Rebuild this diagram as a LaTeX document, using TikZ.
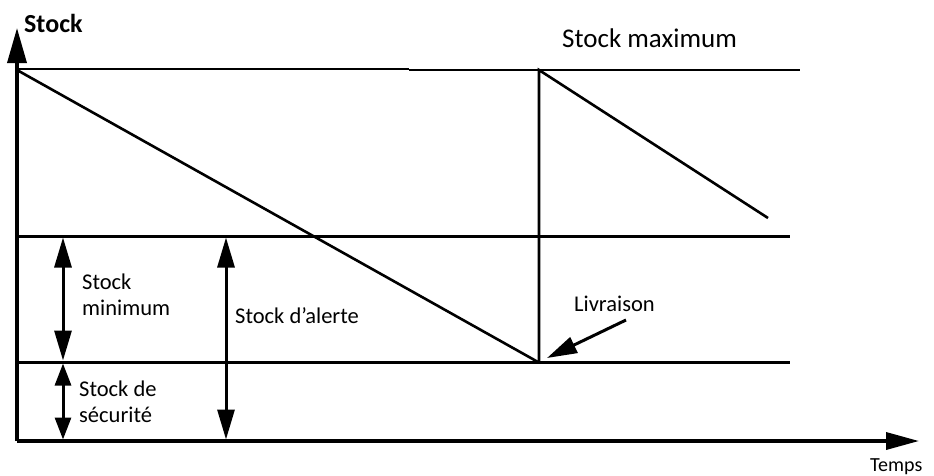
\documentclass[tikz,border=0pt]{standalone}
\usepackage{fontspec}
\setmainfont{Carlito}
\usetikzlibrary{arrows.meta}
\begin{document}
\begin{tikzpicture}[x=1pt,y=-1pt,
  axis/.style={line width=3.5pt},
  level/.style={line width=3pt},
  thinlevel/.style={line width=2pt},
  saw/.style={line width=2.6pt},
  dbl/.style={line width=3pt,{Triangle[length=30pt,width=17pt]}-{Triangle[length=30pt,width=17pt]}},
  dblshort/.style={line width=3pt,{Triangle[length=22pt,width=16pt]}-{Triangle[length=22pt,width=16pt]}},
  lbl/.style={font=\fontsize{22.5}{26}\selectfont, align=left, inner sep=0pt, anchor=base west}]
\useasboundingbox (0,0) rectangle (934,475);
% coordinates
\coordinate (O) at (17,441);
\coordinate (Ytip) at (17,28);
\coordinate (Xtip) at (919,441);
\coordinate (M1) at (17,69);
\coordinate (M2) at (409,69);
\coordinate (M3) at (409,70);
\coordinate (M4) at (800,70);
\coordinate (SA) at (17,70);
\coordinate (SB) at (538,362);
\coordinate (SC) at (539,70);
\coordinate (SD) at (768,218);
\coordinate (L1a) at (17,236);
\coordinate (L1b) at (790,236);
\coordinate (L2a) at (17,362);
\coordinate (L2b) at (790,362);
% axes
\draw[axis,-{Triangle[length=35pt,width=19pt]}] (O) -- (Ytip);
\draw[axis,-{Triangle[length=33pt,width=17pt]}] (O) -- (Xtip);
% levels
\draw[thinlevel] (M1) -- (M2);
\draw[thinlevel] (M3) -- (M4);
\draw[level] (L1a) -- (L1b);
\draw[level] (L2a) -- (L2b);
% sawtooth
\draw[saw] (SA) -- (SB);
\draw[saw] (SB -| SC) -- (SC) -- (SD);
% double arrows
\coordinate (a1) at (63,237.5);
\coordinate (a2) at (63,360.5);
\coordinate (a3) at (63,363.5);
\coordinate (a4) at (63,439.5);
\coordinate (a5) at (226,237.5);
\coordinate (a6) at (226,439.5);
\draw[dbl] (a1) -- (a2);
\draw[dblshort] (a3) -- (a4);
\draw[dbl] (a5) -- (a6);
% labels
\node[lbl,font=\fontsize{26}{30}\selectfont\bfseries] (ystock) at (24,32) {Stock};
\node[lbl,font=\fontsize{27}{30}\selectfont] (smax) at (562,47) {Stock maximum};
\node[lbl] (smin) at (82,315) {Stock\\minimum};
\node[lbl] (ssec) at (79,422) {Stock de\\sécurité};
\node[lbl] (salerte) at (235,323) {Stock d’alerte};
\node[lbl] (liv) at (574,311) {Livraison};
\node[lbl,font=\fontsize{20}{24}\selectfont] (temps) at (870,471) {Temps};
% livraison arrow
\coordinate (livtail) at (626,320);
\coordinate (deliv) at (547,358);
\draw[line width=3pt,-{Triangle[length=30pt,width=17pt]}] (livtail) -- (deliv);
\end{tikzpicture}
\end{document}
